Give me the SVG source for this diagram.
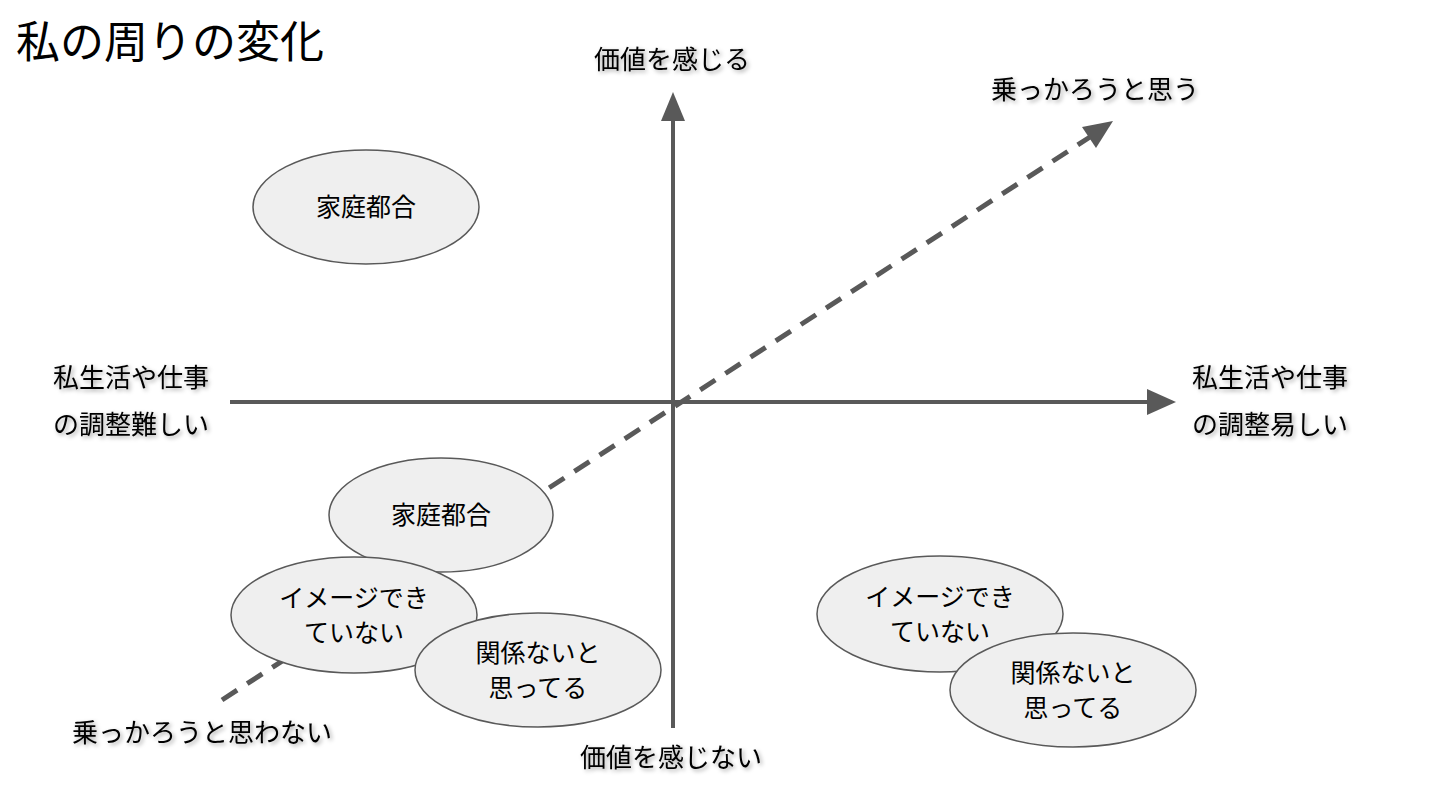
<svg xmlns="http://www.w3.org/2000/svg" width="1440" height="810" viewBox="0 0 1440 810">
<defs>
<style>
text{font-family:"Noto Sans CJK JP","Noto Sans CJK SC",sans-serif;fill:#000;}
.lbl{font-size:26px;text-anchor:middle;}
.node ellipse{fill:#efefef;stroke:#595959;stroke-width:1.5;}
.node text{font-size:25px;text-anchor:middle;}
.axis{stroke:#595959;stroke-width:4;fill:none;}
.dash{stroke:#595959;stroke-width:5;fill:none;stroke-dasharray:18 12;}
</style>
<filter id="sh" x="-10%" y="-30%" width="120%" height="160%">
<feDropShadow dx="2" dy="2" stdDeviation="2" flood-color="#000" flood-opacity="0.35"/>
</filter>
</defs>
<rect width="1440" height="810" fill="#fff"/>
<text x="16" y="58" style="font-size:44px">私の周りの変化</text>
<g id="connectors">
<line class="axis" x1="230" y1="402" x2="1148" y2="402"/>
<path d="M1147,389 L1176,402 L1147,415 z" fill="#595959"/>
<line class="axis" x1="673" y1="728" x2="673" y2="120"/>
<path d="M661,121 L673,92 L685,121 z" fill="#595959"/>
<line class="dash" x1="222" y1="700" x2="1090" y2="137"/>
<path d="M1082,127 L1113,121 L1096,148 z" fill="#595959"/>
</g>
<g id="labels" filter="url(#sh)">
<text class="lbl" x="672" y="69">価値を感じる</text>
<text class="lbl" x="1095" y="99">乗っかろうと思う</text>
<text class="lbl" x="131" y="387">私生活や仕事</text>
<text class="lbl" x="131" y="434">の調整難しい</text>
<text class="lbl" x="1270" y="387">私生活や仕事</text>
<text class="lbl" x="1270" y="434">の調整易しい</text>
<text class="lbl" x="202" y="742">乗っかろうと思わない</text>
<text class="lbl" x="671" y="767">価値を感じない</text>
</g>
<g id="n1" class="node"><ellipse cx="366" cy="207" rx="113" ry="57"/><text x="366" y="216">家庭都合</text></g>
<g id="n2" class="node"><ellipse cx="441" cy="515" rx="112" ry="57"/><text x="441" y="524">家庭都合</text></g>
<g id="n3" class="node"><ellipse cx="354" cy="615" rx="123" ry="58"/><text x="354" y="607">イメージでき</text><text x="354" y="642">ていない</text></g>
<g id="n4" class="node"><ellipse cx="538" cy="670" rx="123" ry="57"/><text x="538" y="662">関係ないと</text><text x="538" y="697">思ってる</text></g>
<g id="n5" class="node"><ellipse cx="940" cy="614" rx="123" ry="58"/><text x="940" y="606">イメージでき</text><text x="940" y="641">ていない</text></g>
<g id="n6" class="node"><ellipse cx="1073" cy="690" rx="123" ry="57"/><text x="1073" y="682">関係ないと</text><text x="1073" y="717">思ってる</text></g>
</svg>
